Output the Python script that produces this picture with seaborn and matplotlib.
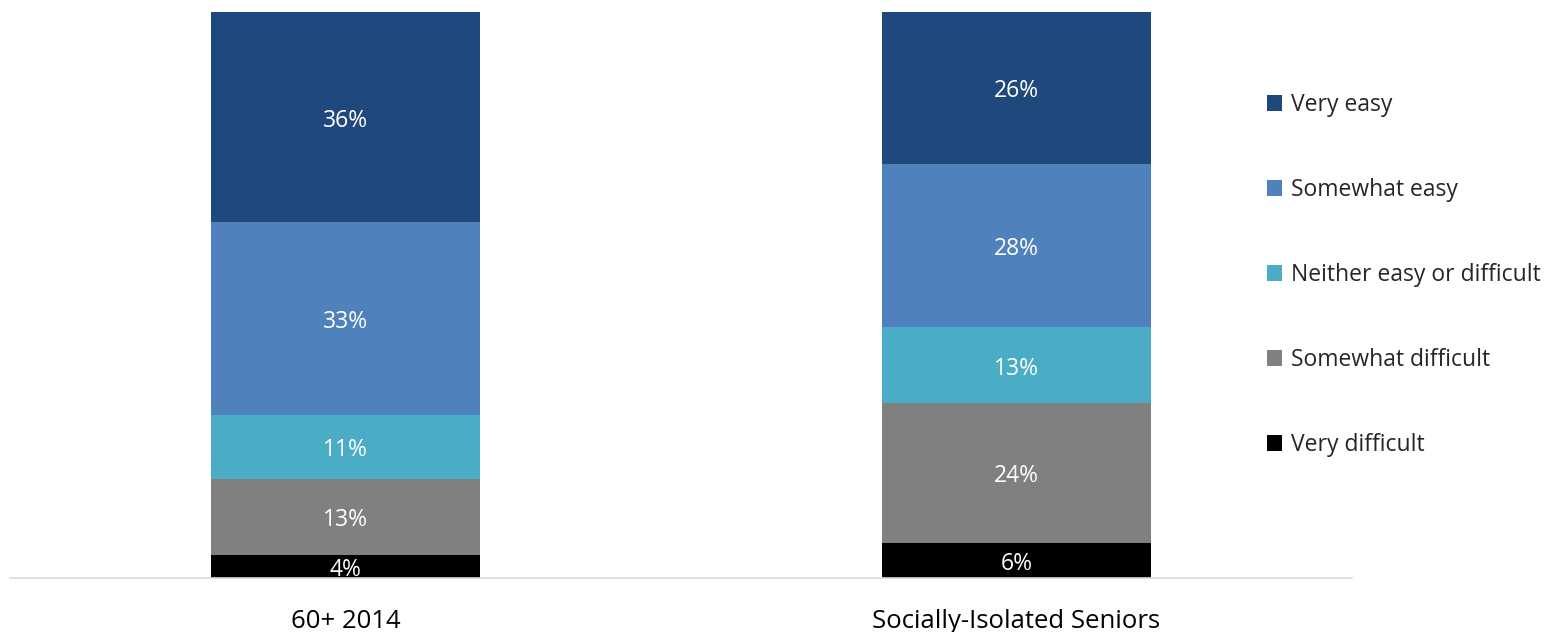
import matplotlib
matplotlib.use("Agg")
import matplotlib.pyplot as plt
from matplotlib.patches import Patch
import seaborn as sns
import pandas as pd
import numpy as np

# --- data ---
groups = ['60+ 2014', 'Socially-Isolated Seniors']
levels = ['Very easy', 'Somewhat easy', 'Neither easy or difficult',
          'Somewhat difficult', 'Very difficult']
very_easy = [36, 26]
somewhat_easy = [33, 28]
neither = [11, 13]
somewhat_difficult = [13, 24]
very_difficult = [4, 6]

colors = ['#1f497d', '#4f81bd', '#4bacc6', '#808080', '#000000']

sns.set_style('white')
plt.rcParams['font.family'] = ['Open Sans', 'DejaVu Sans']

df = pd.DataFrame({
    'group': groups,
    'Very easy': very_easy,
    'Somewhat easy': somewhat_easy,
    'Neither easy or difficult': neither,
    'Somewhat difficult': somewhat_difficult,
    'Very difficult': very_difficult,
})

# cumulative heights, bottom segment = Very difficult
stack_order = levels[::-1]
cum = df[stack_order].cumsum(axis=1)

fig = plt.figure(figsize=(15.51, 6.32), dpi=100)
ax = fig.add_axes([10 / 1551, 1 - 578 / 632, 1342 / 1551, 566 / 632])

# draw tallest first so each shorter bar covers the one behind
for lvl, col in zip(levels, colors):
    sns.barplot(x=df['group'], y=cum[lvl], color=col, width=0.4,
                saturation=1, ax=ax, edgecolor='none')

# value labels
for i in range(len(groups)):
    base = 0
    for lvl in stack_order:
        v = df.loc[i, lvl]
        ax.text(i, base + v / 2 - 0.6, f'{v}%', ha='center', va='center',
                color='white', fontsize=16.5)
        base += v

ax.set_xlim(-0.5, 1.5)
ax.set_ylim(0, cum[levels[0]].max())
ax.set_yticks([])
ax.set_xlabel('')
ax.set_ylabel('')
for s in ['top', 'right', 'left']:
    ax.spines[s].set_visible(False)
ax.spines['bottom'].set_color('#d9d9d9')
ax.spines['bottom'].set_linewidth(1.2)
ax.tick_params(axis='x', length=0, pad=22, labelsize=18.5, colors='#000000')

handles = [Patch(facecolor=c, edgecolor='none') for c in colors]
fig.legend(handles, levels, loc='upper left', bbox_to_anchor=(1258 / 1551, 1 - 84 / 632),
           frameon=False, fontsize=16.5, labelspacing=2.66, handlelength=0.65,
           handleheight=0.65, handletextpad=0.4, borderaxespad=0)

fig.savefig('out.png', dpi=100)
